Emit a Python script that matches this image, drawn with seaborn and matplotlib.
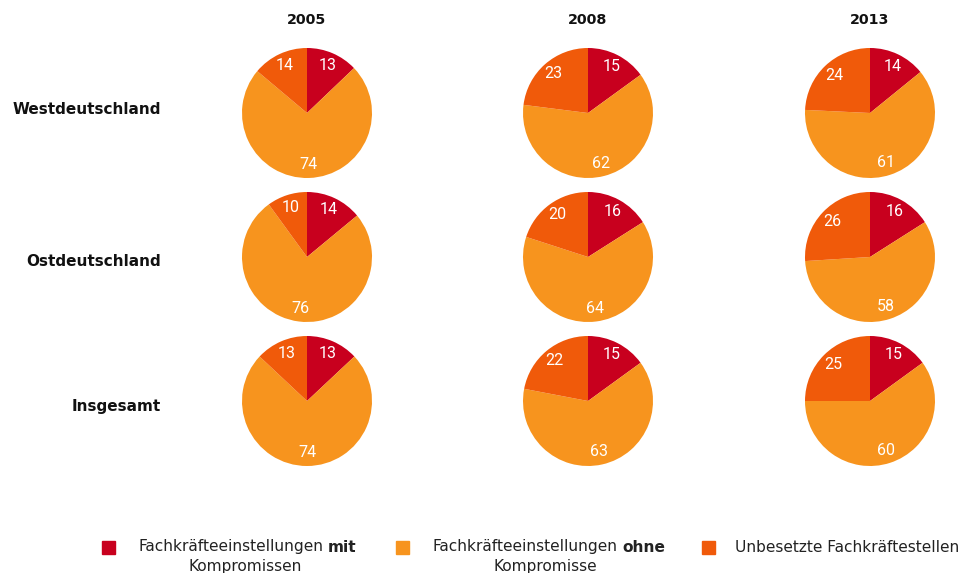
import matplotlib
matplotlib.use("Agg")
import matplotlib.pyplot as plt
import matplotlib.patches as mpatches
import seaborn as sns

# data
years = ["2005", "2008", "2013"]
regions = ["Westdeutschland", "Ostdeutschland", "Insgesamt"]
mit_kompromiss = [[13, 15, 14], [14, 16, 16], [13, 15, 15]]
ohne_kompromiss = [[74, 62, 61], [76, 64, 58], [74, 63, 60]]
unbesetzt = [[14, 23, 24], [10, 20, 26], [13, 22, 25]]
colors = ["#C8001E", "#F7941E", "#F05A0A"]

sns.set_theme(style="white")
plt.rcParams["font.family"] = ["DejaVu Sans"]

W, H = 967, 573
fig = plt.figure(figsize=(W / 100, H / 100), dpi=100)

col_x = [307, 588, 870]
row_y = [113, 257, 401]
r = 65

for i, reg in enumerate(regions):
    for j, yr in enumerate(years):
        ax = fig.add_axes([(col_x[j] - r) / W, 1 - (row_y[i] + r) / H, 2 * r / W, 2 * r / H])
        vals = [mit_kompromiss[i][j], ohne_kompromiss[i][j], unbesetzt[i][j]]
        wedges, texts = ax.pie(vals, colors=colors, startangle=90, counterclock=False,
                               labels=[str(v) for v in vals], labeldistance=0.8,
                               radius=1, wedgeprops=dict(linewidth=0),
                               textprops=dict(color="white", fontsize=11.5,
                                              family=["Roboto", "DejaVu Sans"]))
        for t in texts:
            t.set_ha("center")
            t.set_va("center")
        ax.set_xlim(-1, 1)
        ax.set_ylim(-1, 1)
        ax.axis("off")

# column titles and row labels
for j, yr in enumerate(years):
    fig.text(col_x[j] / W, 1 - 20 / H, yr, ha="center", va="center",
             fontsize=10.3, fontweight="bold", color="#111111")
label_y = [110, 261, 406]
for i, reg in enumerate(regions):
    fig.text(161 / W, 1 - label_y[i] / H, reg, ha="right", va="center",
             fontsize=11, fontweight="bold", color="#111111")

# legend drawn by hand (bold words inside the labels)
leg_font = ["DejaVu Sans"]
fs = 11.1
sq = 13
legend_items = [
    (102, "Fachkräfteeinstellungen", "mit", "Kompromissen", 328, 245),
    (396, "Fachkräfteeinstellungen", "ohne", "Kompromisse", 622, 545),
    (702, "Unbesetzte Fachkräftestellen", "", "", 735, 0),
]
for k, (sx, normal, bold, line2, split_x, c2) in enumerate(legend_items):
    fig.patches.append(mpatches.Rectangle((sx / W, 1 - (547 + sq / 2) / H), sq / W, sq / H,
                                          transform=fig.transFigure, color=colors[k]))
    if bold:
        fig.text((split_x - 5) / W, 1 - 547 / H, normal, ha="right", va="center",
                 fontsize=fs, family=leg_font, color="#222222")
        fig.text(split_x / W, 1 - 547 / H, bold, ha="left", va="center",
                 fontsize=fs, fontweight="bold", family=leg_font, color="#222222")
        fig.text(c2 / W, 1 - 566 / H, line2, ha="center", va="center",
                 fontsize=fs, family=leg_font, color="#222222")
    else:
        fig.text(split_x / W, 1 - 547 / H, normal, ha="left", va="center",
                 fontsize=fs, family=leg_font, color="#222222")

fig.savefig("out.png", dpi=100)
plt.close(fig)
